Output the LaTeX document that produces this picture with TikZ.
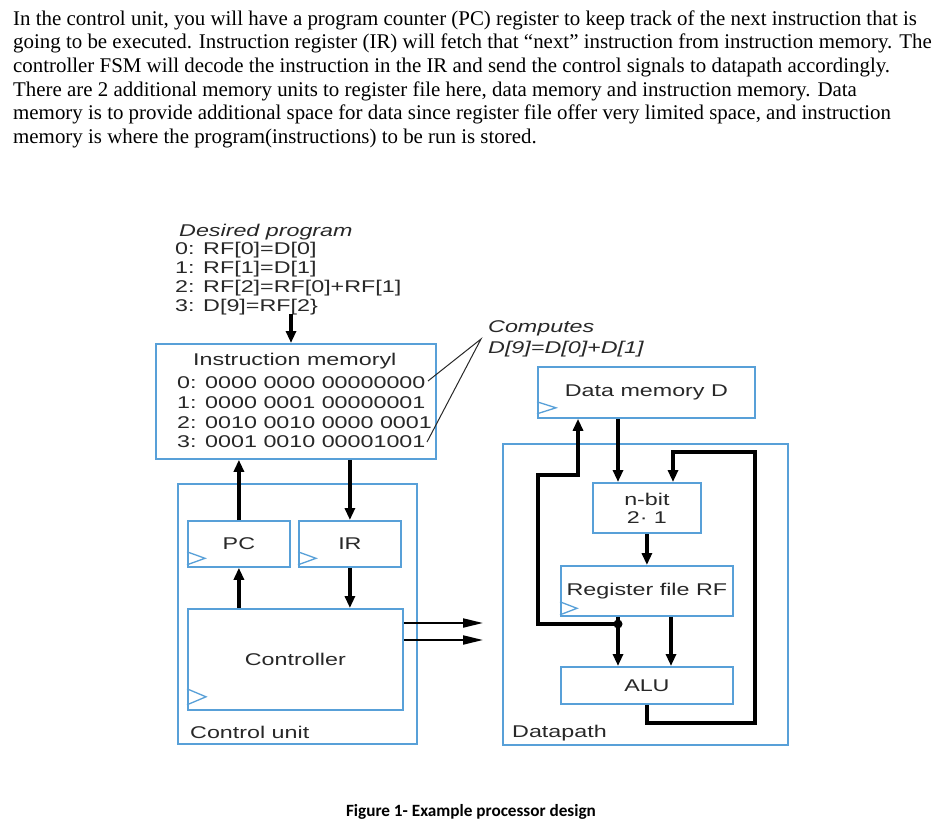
\documentclass[tikz,border=0pt]{standalone}
\usepackage{fontspec}
\usepackage{graphicx}
\setmainfont{Liberation Serif}
\newfontfamily\arialf{Liberation Sans}
\newfontfamily\calibf{Carlito}
\usetikzlibrary{arrows.meta,calc}
\definecolor{boxblue}{RGB}{88,160,216}
\definecolor{txtgray}{RGB}{40,40,40}
\newcommand{\wt}[1]{\scalebox{1.37}[1]{#1}}
\tikzset{
 blk/.style={draw=boxblue, line width=1.8pt, inner sep=0pt, anchor=north west, font=\arialf\fontsize{17}{20}\selectfont, text=txtgray, align=center},
 lbl/.style={inner sep=0pt, anchor=base west, font=\arialf\fontsize{17}{20}\selectfont, text=txtgray},
 para/.style={inner sep=0pt, anchor=base west, font=\fontsize{20.9}{24}\selectfont},
 wire/.style={line width=3.2pt, black},
 arr/.style={wire, -{Triangle[length=12pt,width=10pt]}},
 thinarr/.style={line width=2pt, black, -{Triangle[length=20pt,width=9pt]}},
 clk/.style={draw=boxblue, line width=1.3pt},
 ptr/.style={line width=1pt, draw=txtgray},
}
\begin{document}
\begin{tikzpicture}[x=1pt,y=-1pt]
\path[use as bounding box, fill=white] (0,0) rectangle (939,830);

% paragraph
\node[para] (p1) at (13,25) {In the control unit, you will have a program counter (PC) register to keep track of the next instruction that is};
\node[para] (p2) at (13,48.7) {going to be executed. Instruction register (IR) will fetch that “next” instruction from instruction memory. The};
\node[para] (p3) at (13,72.4) {controller FSM will decode the instruction in the IR and send the control signals to datapath accordingly.};
\node[para] (p4) at (13,96) {There are 2 additional memory units to register file here, data memory and instruction memory. Data};
\node[para] (p5) at (13,119.7) {memory is to provide additional space for data since register file offer very limited space, and instruction};
\node[para] (p6) at (13,143.4) {memory is where the program(instructions) to be run is stored.};

% desired program
\node[lbl, font=\arialf\itshape\fontsize{17}{20}\selectfont] (dp0) at (179,236) {\wt{Desired program}};
\node[lbl] (dp1) at (175,254) {\wt{0: RF[0]=D[0]}};
\node[lbl] (dp2) at (175,273) {\wt{1: RF[1]=D[1]}};
\node[lbl] (dp3) at (175,292) {\wt{2: RF[2]=RF[0]+RF[1]}};
\node[lbl] (dp4) at (175,311) {\wt{3: D[9]=RF[2\}}};

% computes
\node[lbl, font=\arialf\itshape\fontsize{17}{20}\selectfont] (cp1) at (488,332) {\wt{Computes}};
\node[lbl, font=\arialf\itshape\fontsize{17}{20}\selectfont] (cp2) at (488,353) {\wt{D[9]=D[0]+D[1]}};

% containers
\node[blk, minimum width=239pt, minimum height=260pt] (cu) at (177,483) {};
\node[blk, minimum width=285pt, minimum height=301pt] (dpth) at (502,443) {};
\node[lbl] (cul) at (190,738) {\wt{Control unit}};
\node[lbl] (dpl) at (512,737) {\wt{Datapath}};

% instruction memory
\node[blk, minimum width=280pt, minimum height=115pt] (im) at (155,343) {};
\node[lbl] (imt) at (193,365) {\wt{Instruction memoryl}};
\node[lbl] (im0) at (177,388) {\wt{0: 0000 0000 00000000}};
\node[lbl] (im1) at (177,408) {\wt{1: 0000 0001 00000001}};
\node[lbl] (im2) at (177,428) {\wt{2: 0010 0010 0000 0001}};
\node[lbl] (im3) at (177,447) {\wt{3: 0001 0010 00001001}};

% pointer lines
\coordinate (ap) at (481,339);
\coordinate (e0) at (428,381);
\coordinate (e3) at (427,442);
\draw[ptr] (e0) -- (ap) -- (e3);

% control unit boxes
\node[blk, minimum width=102pt, minimum height=46pt] (pc) at (187,520) {\wt{PC}};
\node[blk, minimum width=102pt, minimum height=46pt] (ir) at (298,520) {\wt{IR}};
\node[blk, minimum width=215pt, minimum height=101pt] (ctrl) at (187,608) {\wt{Controller}};

% datapath boxes
\node[blk, minimum width=217pt, minimum height=51pt] (dm) at (537,366) {\wt{Data memory D}};
\node[blk, minimum width=108pt, minimum height=50pt] (mux) at (592,482) {\wt{n-bit}\\[-2pt]\wt{2· 1}};
\node[blk, minimum width=172pt, minimum height=50pt] (rf) at (560,565) {\wt{Register file RF}};
\node[blk, minimum width=172pt, minimum height=37pt] (alu) at (560,666) {\wt{ALU}};

% clock triangles
\draw[clk] ($(pc.south west)+(0,-16)$) -- ++(18,6.5) -- ++(-18,6.5);
\draw[clk] ($(ir.south west)+(0,-16)$) -- ++(18,6.5) -- ++(-18,6.5);
\draw[clk] ($(ctrl.south west)+(0,-22)$) -- ++(19,8) -- ++(-19,8);
\draw[clk] ($(dm.south west)+(0,-17)$) -- ++(19,6) -- ++(-19,6);
\draw[clk] ($(rf.south west)+(0,-15)$) -- ++(17,6.5) -- ++(-17,6.5);

% control unit connectors
\coordinate (dpe) at (291,314);
\draw[arr] (dpe) -- (dpe |- im.north);
\draw[arr] (pc.north) -- (pc.north |- im.south);
\draw[arr] (ir.north |- im.south) -- (ir.north);
\draw[arr] (ctrl.north -| pc.north) -- (pc.south);
\draw[arr] (ir.south) -- (ir.south |- ctrl.north);
\coordinate (o1) at (483,623);
\coordinate (o2) at (483,640);
\draw[thinarr] (ctrl.east |- o1) -- (o1);
\draw[thinarr] (ctrl.east |- o2) -- (o2);

% datapath connectors
\coordinate (xd) at (618,0);
\draw[arr] (dm.south -| xd) -- (mux.north -| xd);
\coordinate (J) at (618,624);
\draw[arr] (rf.south -| J) -- (alu.north -| J);
\coordinate (L1) at (538,475);
\coordinate (xu) at (578,0);
\draw[arr] (J) -- (J -| L1) -- (L1) -- (L1 -| xu) -- (dm.south -| xu);
\fill (J) circle (4.5pt);
\draw[arr] (mux.south) -- (mux.south |- rf.north);
\coordinate (xr) at (671,0);
\draw[arr] (rf.south -| xr) -- (alu.north -| xr);
\coordinate (FB) at (755,723);
\coordinate (FT) at (673,452);
\draw[arr] (alu.south) -- (alu.south |- FB) -- (FB) -- (FB |- FT) -- (FT) -- (FT |- mux.north);

% caption
\node[inner sep=0pt, anchor=base, font=\calibf\bfseries\fontsize{17.2}{20}\selectfont] (cap) at (471,816) {Figure 1- Example processor design};
\end{tikzpicture}
\end{document}
